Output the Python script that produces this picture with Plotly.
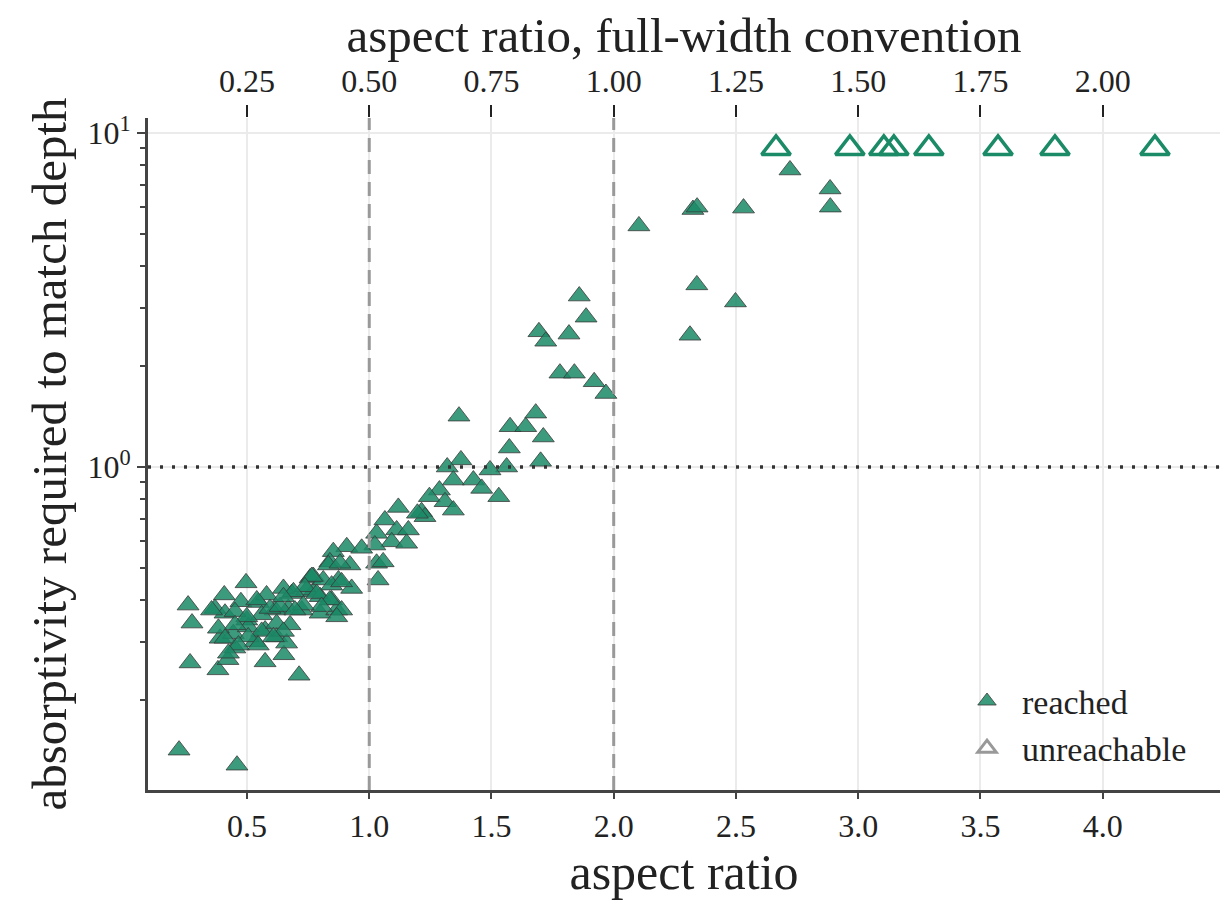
import plotly.graph_objects as go

# aspect ratio (x) and absorptivity (y) where the target depth was reached
reached_ar = [
    0.222, 0.459, 0.259, 0.275, 0.267, 0.381, 0.422, 0.713, 0.574, 0.651, 0.496, 1.036,
    0.407, 0.369, 0.475, 0.546, 0.580, 0.410, 0.499, 0.451, 0.669, 0.683, 0.649, 0.758,
    0.771, 0.799, 0.615, 0.574, 0.621, 0.390, 0.444, 0.533, 0.662, 0.505, 0.450, 0.560,
    1.119, 1.214, 1.064, 1.112, 1.160, 1.030, 1.092, 1.153, 1.023, 0.908, 0.969, 0.853,
    0.839, 0.921, 1.030, 1.057, 0.771, 0.812, 0.874, 0.928, 0.744, 0.799, 0.846, 0.724,
    0.867, 1.859, 1.887, 1.694, 1.722, 1.817, 1.780, 1.839, 1.920, 1.968, 1.367, 1.576,
    1.640, 1.681, 1.712, 1.573, 1.701, 1.375, 1.319, 1.562, 1.494, 1.344, 1.426, 1.460,
    1.530, 1.287, 1.246, 1.310, 1.344, 1.228, 1.197, 2.721, 2.885, 2.886, 2.324, 2.341,
    2.531, 2.103, 2.340, 2.498, 2.312, 0.540, 0.355, 0.499, 0.594, 0.635, 0.451, 0.383,
    0.560, 0.505, 0.410, 0.465, 0.546, 0.424, 0.833, 0.880, 0.765, 0.846, 0.887, 0.737,
    0.785, 0.690, 0.649, 0.839, 0.887, 0.805, 0.730, 0.696, 0.867, 0.676, 0.621, 0.649,
    0.608,
]
reached_abs = [
    0.142, 0.128, 0.386, 0.341, 0.259, 0.247, 0.265, 0.238, 0.261, 0.274, 0.450, 0.459,
    0.414, 0.377, 0.395, 0.393, 0.414, 0.365, 0.348, 0.369, 0.377, 0.418, 0.433, 0.465,
    0.423, 0.365, 0.373, 0.325, 0.310, 0.307, 0.317, 0.300, 0.297, 0.332, 0.287, 0.361,
    0.757, 0.735, 0.694, 0.648, 0.648, 0.633, 0.597, 0.591, 0.584, 0.577, 0.571, 0.558,
    0.520, 0.509, 0.515, 0.520, 0.470, 0.459, 0.459, 0.433, 0.428, 0.409, 0.400, 0.373,
    0.373, 3.25, 2.81, 2.54, 2.38, 2.50, 1.91, 1.91, 1.80, 1.66, 1.42, 1.32,
    1.32, 1.45, 1.23, 1.14, 1.04, 1.05, 1.00, 1.00, 0.98, 0.914, 0.914, 0.863,
    0.815, 0.853, 0.815, 0.787, 0.743, 0.710, 0.727, 7.75, 6.80, 6.00, 5.90, 6.00,
    5.96, 5.27, 3.51, 3.12, 2.48, 0.400, 0.373, 0.356, 0.377, 0.382, 0.337, 0.329,
    0.322, 0.310, 0.307, 0.293, 0.293, 0.277, 0.509, 0.515, 0.470, 0.443, 0.453, 0.438,
    0.418, 0.423, 0.409, 0.400, 0.373, 0.382, 0.386, 0.373, 0.356, 0.337, 0.340, 0.322,
    0.310,
]

# cases that never reached the depth (drawn at the cap value)
unreach_ar = [2.664, 2.966, 3.105, 3.146, 3.289, 3.572, 3.805, 4.214]
unreach_abs = [9.0] * len(unreach_ar)

x_ticks = [0.5, 1.0, 1.5, 2.0, 2.5, 3.0, 3.5, 4.0]
top_ticks = [0.25, 0.50, 0.75, 1.00, 1.25, 1.50, 1.75, 2.00]
y_ticks = [1, 10]
y_ticktext = ["10<sup>0</sup>", "10<sup>1</sup>"]
y_minor = [0.2, 0.3, 0.4, 0.5, 0.6, 0.7, 0.8, 0.9, 2, 3, 4, 5, 6, 7, 8, 9]

x_range = [0.095, 4.48]
y_range = [-0.967, 1.045]

green = "#1b8a66"
serif = "Liberation Serif, Times New Roman, serif"
axis_col = "#444444"

fig = go.Figure()

fig.add_trace(go.Scatter(
    x=reached_ar, y=reached_abs, mode="markers", name="reached",
    marker=dict(symbol="triangle-up", size=19, color="rgba(27,138,102,0.85)",
                line=dict(color="#3a3a3a", width=0.8)),
))
fig.add_trace(go.Scatter(
    x=unreach_ar, y=unreach_abs, mode="markers", name="unreachable", showlegend=False,
    marker=dict(symbol="triangle-up-open", size=25, color=green,
                line=dict(color=green, width=3.5)),
))
# legend entry for unreachable is shown in gray
fig.add_trace(go.Scatter(
    x=[None], y=[None], mode="markers", name="unreachable",
    marker=dict(symbol="triangle-up-open", size=22, color="#999999",
                line=dict(color="#999999", width=3)),
))
# dummy trace to carry the top axis
fig.add_trace(go.Scatter(x=[None], y=[None], xaxis="x2", showlegend=False, hoverinfo="skip"))

# reference lines
for xv in [1.0, 2.0]:
    fig.add_shape(type="line", xref="x", yref="paper", x0=xv, x1=xv, y0=0, y1=1,
                  line=dict(color="#999999", width=3, dash="14px,8px"), layer="above")
fig.add_shape(type="line", xref="paper", yref="y", x0=0, x1=1, y0=1, y1=1,
              line=dict(color="#333333", width=3.5, dash="3px,9px"), layer="above")

fig.update_layout(
    width=1223, height=912,
    margin=dict(l=140, r=11, t=110, b=130),
    paper_bgcolor="white", plot_bgcolor="white",
    font=dict(family=serif, size=32, color="#222222"),
    showlegend=True,
    legend=dict(x=0.75, y=0.175, xanchor="left", yanchor="top",
                bgcolor="rgba(0,0,0,0)", font=dict(size=34, family=serif),
                itemsizing="trace", itemwidth=60, tracegroupgap=0),
    xaxis=dict(
        range=x_range, tickvals=x_ticks, ticktext=[f"{v:.1f}" for v in x_ticks],
        showline=True, linecolor=axis_col, linewidth=3, mirror=False,
        ticks="outside", ticklen=6, tickwidth=2, tickcolor=axis_col,
        showgrid=True, gridcolor="#ebebeb", gridwidth=1.5, zeroline=False,
        title=dict(text="aspect ratio", font=dict(size=50, family=serif), standoff=10),
        tickfont=dict(size=32, family=serif),
    ),
    xaxis2=dict(
        overlaying="x", side="top", range=[x_range[0] / 2, x_range[1] / 2],
        tickvals=top_ticks, ticktext=[f"{v:.2f}" for v in top_ticks],
        showline=False, ticks="outside", ticklen=12, tickwidth=2, tickcolor="#222222",
        showgrid=False, zeroline=False,
        title=dict(text="aspect ratio, full-width convention",
                   font=dict(size=49, family=serif), standoff=2),
        tickfont=dict(size=32, family=serif),
    ),
    yaxis=dict(
        type="log", range=y_range, tickvals=y_ticks, ticktext=y_ticktext,
        showline=True, linecolor=axis_col, linewidth=3,
        ticks="outside", ticklen=8, tickwidth=2, tickcolor=axis_col,
        minor=dict(tickvals=y_minor, ticks="outside", ticklen=5, tickwidth=1.5,
                   tickcolor=axis_col, showgrid=False),
        showgrid=True, gridcolor="#ebebeb", gridwidth=1.5, zeroline=False,
        title=dict(text="absorptivity required to match depth",
                   font=dict(size=49, family=serif), standoff=6),
        tickfont=dict(size=32, family=serif),
    ),
)

fig.write_html("out.html")
